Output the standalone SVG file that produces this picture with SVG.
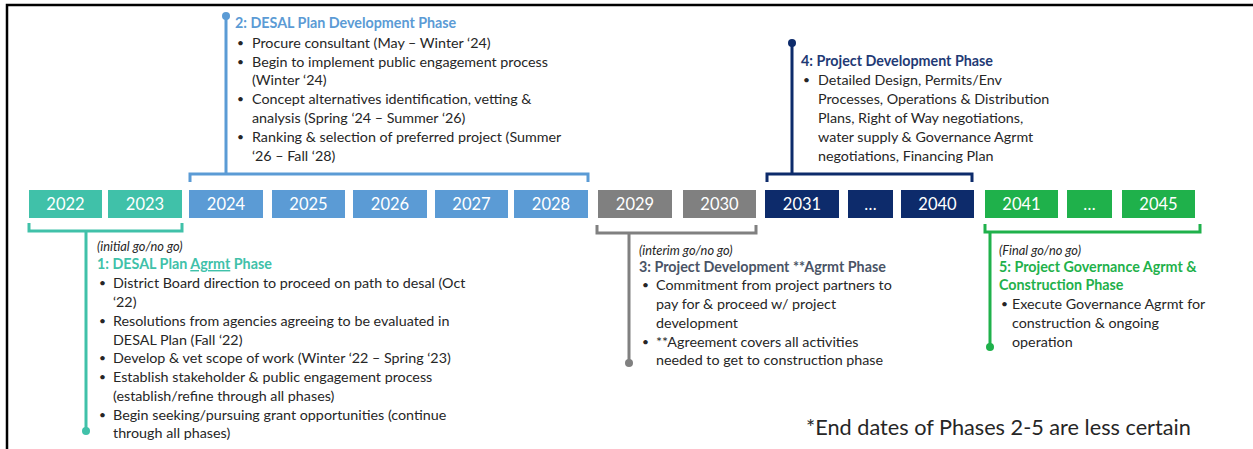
<svg xmlns="http://www.w3.org/2000/svg" width="1253" height="449" viewBox="0 0 1253 449">
  <style>
    .yr { font-family: Lato, "Liberation Sans", sans-serif; font-size: 16.5px; fill: #ffffff; text-anchor: middle; }
    .body { font-family: Lato, "Liberation Sans", sans-serif; font-size: 14.3px; fill: #262626; }
    .bul { font-size: 12px; }
    .ttl { font-family: Lato, "Liberation Sans", sans-serif; font-size: 14.3px; font-weight: bold; }
    .gate { font-family: Lato, "Liberation Sans", sans-serif; font-size: 12.8px; font-style: italic; fill: #262626; }
    .note { font-family: Lato, "Liberation Sans", sans-serif; font-size: 21.7px; fill: #262626; }
    .teal { fill: #40c1a9; }
    .blue { fill: #5b9bd5; }
    .gray { fill: #808080; }
    .navy { fill: #0d2b6b; }
    .green { fill: #1fb14b; }
    .ln { fill: none; stroke-width: 3; stroke-linejoin: miter; }
  </style>

  <!-- frame -->
  <path d="M7 449 V5 H1253" fill="none" stroke="#000" stroke-width="2.5"/>

  <!-- year bar -->
  <g id="years">
    <g id="y2022"><rect class="teal" x="29" y="190" width="73" height="28"/><text class="yr" x="65.5" y="210">2022</text></g>
    <g id="y2023"><rect class="teal" x="108" y="190" width="74" height="28"/><text class="yr" x="145" y="210">2023</text></g>
    <g id="y2024"><rect class="blue" x="189" y="190" width="74" height="28"/><text class="yr" x="226" y="210">2024</text></g>
    <g id="y2025"><rect class="blue" x="272" y="190" width="73" height="28"/><text class="yr" x="308.5" y="210">2025</text></g>
    <g id="y2026"><rect class="blue" x="353" y="190" width="74" height="28"/><text class="yr" x="390" y="210">2026</text></g>
    <g id="y2027"><rect class="blue" x="435" y="190" width="73" height="28"/><text class="yr" x="471.5" y="210">2027</text></g>
    <g id="y2028"><rect class="blue" x="514" y="190" width="74" height="28"/><text class="yr" x="551" y="210">2028</text></g>
    <g id="y2029"><rect class="gray" x="598" y="190" width="74" height="28"/><text class="yr" x="635" y="210">2029</text></g>
    <g id="y2030"><rect class="gray" x="683" y="190" width="73" height="28"/><text class="yr" x="719.5" y="210">2030</text></g>
    <g id="y2031"><rect class="navy" x="765" y="190" width="74" height="28"/><text class="yr" x="802" y="210">2031</text></g>
    <g id="ynavygap"><rect class="navy" x="848" y="190" width="45" height="28"/><text class="yr" x="870.5" y="210">…</text></g>
    <g id="y2040"><rect class="navy" x="901" y="190" width="73" height="28"/><text class="yr" x="937.5" y="210">2040</text></g>
    <g id="y2041"><rect class="green" x="985" y="190" width="73" height="28"/><text class="yr" x="1021.5" y="210">2041</text></g>
    <g id="ygreengap"><rect class="green" x="1067" y="190" width="45" height="28"/><text class="yr" x="1089.5" y="210">…</text></g>
    <g id="y2045"><rect class="green" x="1122" y="190" width="73" height="28"/><text class="yr" x="1158.5" y="210">2045</text></g>
  </g>

  <!-- brackets and leader lines -->
  <g id="connectors">
    <path class="ln" stroke="#5b9bd5" d="M190 182 V174 H588 V182 M226 174 V16"/>
    <circle cx="226" cy="16" r="4" fill="#5b9bd5"/>
    <path class="ln" stroke="#0d2b6b" d="M767 182 V174 H972 V182 M792 174 V43"/>
    <circle cx="792" cy="43" r="4" fill="#0d2b6b"/>
    <path class="ln" stroke="#40c1a9" d="M29 223 V231 H182 V223 M86 231 V431"/>
    <circle cx="86" cy="431" r="4" fill="#40c1a9"/>
    <path class="ln" stroke="#808080" d="M597 225 V233 H756 V225 M629 233 V363"/>
    <circle cx="629" cy="363" r="4" fill="#808080"/>
    <path class="ln" stroke="#1fb14b" d="M985 224 V232 H1200 V224 M990 232 V347"/>
    <circle cx="990" cy="347" r="4" fill="#1fb14b"/>
  </g>

  <!-- phase 2 -->
  <g id="phase2">
    <text class="ttl" x="235" y="28" fill="#5b9bd5">2: DESAL Plan Development Phase</text>
    <g class="body">
      <text class="bul" x="237" y="46.5">•</text><text x="252" y="47.5">Procure consultant (May – Winter ‘24)</text>
      <text class="bul" x="237" y="65.5">•</text><text x="252" y="66.5">Begin to implement public engagement process</text>
      <text x="252" y="85">(Winter ‘24)</text>
      <text class="bul" x="237" y="103">•</text><text x="252" y="104">Concept alternatives identification, vetting &amp;</text>
      <text x="252" y="123">analysis (Spring ‘24 – Summer ‘26)</text>
      <text class="bul" x="237" y="140.5">•</text><text x="252" y="141.5">Ranking &amp; selection of preferred project (Summer</text>
      <text x="252" y="160.5">‘26 – Fall ‘28)</text>
    </g>
  </g>

  <!-- phase 4 -->
  <g id="phase4">
    <text class="ttl" x="801" y="66" fill="#1f3a75">4: Project Development Phase</text>
    <g class="body">
      <text class="bul" x="803" y="84">•</text><text x="818" y="85">Detailed Design, Permits/Env</text>
      <text x="818" y="104">Processes, Operations &amp; Distribution</text>
      <text x="818" y="123">Plans, Right of Way negotiations,</text>
      <text x="818" y="142">water supply &amp; Governance Agrmt</text>
      <text x="818" y="160.5">negotiations, Financing Plan</text>
    </g>
  </g>

  <!-- phase 1 -->
  <g id="phase1">
    <text class="gate" x="97" y="250.5">(initial go/no go)</text>
    <text class="ttl" x="97" y="269" fill="#40c1a9">1: DESAL Plan <tspan text-decoration="underline">Agrmt</tspan> Phase</text>
    <g class="body">
      <text class="bul" x="99" y="287">•</text><text x="113" y="288">District Board direction to proceed on path to desal (Oct</text>
      <text x="113" y="307">‘22)</text>
      <text class="bul" x="99" y="325">•</text><text x="113" y="326">Resolutions from agencies agreeing to be evaluated in</text>
      <text x="113" y="344.5">DESAL Plan (Fall ‘22)</text>
      <text class="bul" x="99" y="362">•</text><text x="113" y="363">Develop &amp; vet scope of work (Winter ‘22 – Spring ‘23)</text>
      <text class="bul" x="99" y="381">•</text><text x="113" y="382">Establish stakeholder &amp; public engagement process</text>
      <text x="113" y="401">(establish/refine through all phases)</text>
      <text class="bul" x="99" y="418.5">•</text><text x="113" y="419.5">Begin seeking/pursuing grant opportunities (continue</text>
      <text x="113" y="438">through all phases)</text>
    </g>
  </g>

  <!-- phase 3 -->
  <g id="phase3">
    <text class="gate" x="639" y="254.5">(interim go/no go)</text>
    <text class="ttl" x="639" y="271.5" fill="#4a5466">3: Project Development **Agrmt Phase</text>
    <g class="body">
      <text class="bul" x="642" y="289">•</text><text x="656" y="290">Commitment from project partners to</text>
      <text x="656" y="309">pay for &amp; proceed w/ project</text>
      <text x="656" y="328">development</text>
      <text class="bul" x="642" y="345.5">•</text><text x="656" y="346.5">**Agreement covers all activities</text>
      <text x="656" y="365">needed to get to construction phase</text>
    </g>
  </g>

  <!-- phase 5 -->
  <g id="phase5">
    <text class="gate" x="999" y="254.5">(Final go/no go)</text>
    <text class="ttl" x="999" y="271.5" fill="#1fb14b">5: Project Governance Agrmt &amp;</text>
    <text class="ttl" x="999" y="290" fill="#1fb14b">Construction Phase</text>
    <g class="body">
      <text class="bul" x="1001" y="308">•</text><text x="1012" y="309">Execute Governance Agrmt for</text>
      <text x="1012" y="328">construction &amp; ongoing</text>
      <text x="1012" y="347">operation</text>
    </g>
  </g>

  <!-- footnote -->
  <text class="note" x="806" y="435">*End dates of Phases 2-5 are less certain</text>
</svg>
